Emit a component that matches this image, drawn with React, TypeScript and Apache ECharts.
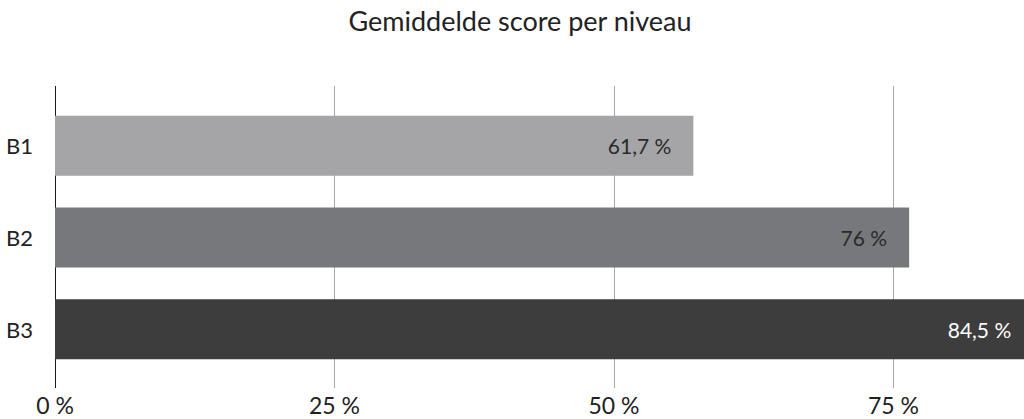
import React, { useEffect, useRef } from "react";
import * as echarts from "echarts";

const categories = ["B1", "B2", "B3"];
const barValues = [57.1, 76.4, 87.5];
const valueLabels = ["61,7 %", "76 %", "84,5 %"];
const barColors = ["#a5a5a8", "#77787c", "#3d3d3d"];
const labelColors = ["#2a2a2a", "#2a2a2a", "#ffffff"];
const tickValues = [0, 25, 50, 75, 100];

const FONT = "Lato";

export default function App() {
  const ref = useRef<HTMLDivElement>(null);
  useEffect(() => {
    if (!ref.current) return;
    const chart = echarts.init(ref.current, undefined, { renderer: "svg" });
    chart.setOption({
      animation: false,
      backgroundColor: "#ffffff",
      title: {
        text: "Gemiddelde score per niveau",
        left: 515,
        textAlign: "center",
        top: 2,
        textStyle: { fontFamily: FONT, fontSize: 27, fontWeight: "normal", color: "#222" },
      },
      grid: [
        { left: 55, width: 1118, top: 86, height: 302, outerBoundsMode: "none", containLabel: false },
        { left: 55, width: 1118, top: 100, height: 275, outerBoundsMode: "none", containLabel: false },
      ],
      xAxis: [
        {
          type: "value",
          gridIndex: 0,
          min: tickValues[0],
          max: tickValues[tickValues.length - 1],
          interval: 25,
          axisLine: { show: false },
          axisTick: { show: false },
          splitLine: {
            show: true,
            lineStyle: { color: ["#1a1a1a", "#a6a6a6", "#a6a6a6", "#a6a6a6", "#a6a6a6"], width: 1 },
          },
          axisLabel: {
            formatter: "{value} %",
            fontFamily: FONT,
            fontSize: 23,
            color: "#222",
            margin: 5,
            showMaxLabel: false,
          },
        },
        {
          type: "value",
          gridIndex: 1,
          min: tickValues[0],
          max: tickValues[tickValues.length - 1],
          show: false,
          splitLine: { show: false },
        },
      ],
      yAxis: [
        { type: "value", gridIndex: 0, show: false, min: 0, max: 1, splitLine: { show: false } },
        {
          type: "category",
          gridIndex: 1,
          data: categories,
          inverse: true,
          axisLine: { show: false },
          axisTick: { show: false },
          splitLine: { show: false },
          axisLabel: { fontFamily: FONT, fontSize: 22, color: "#222", margin: 22 },
        },
      ],
      series: [
        {
          type: "bar",
          xAxisIndex: 1,
          yAxisIndex: 1,
          barWidth: 60,
          data: barValues.map((v, i) => ({
            value: v,
            itemStyle: { color: barColors[i] },
            label: { color: labelColors[i] },
          })),
          label: {
            show: true,
            position: "insideRight",
            distance: 22,
            fontFamily: FONT,
            fontSize: 21,
            formatter: (p: any) => valueLabels[p.dataIndex],
          },
        },
      ],
    });
    return () => chart.dispose();
  }, []);
  return <div ref={ref} style={{ position: "fixed", left: 0, top: 0, width: 1024, height: 419 }} />;
}
